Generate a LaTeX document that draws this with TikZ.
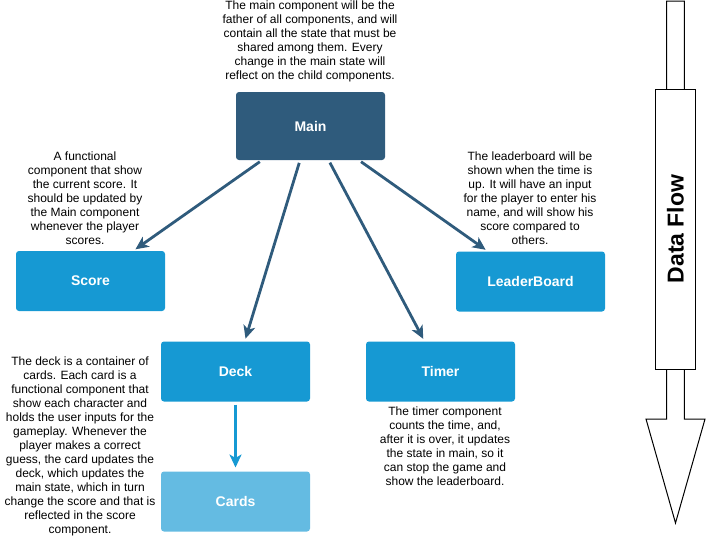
\documentclass[tikz,border=0pt]{standalone}
\usepackage{fontspec}
\setmainfont{Liberation Sans}
\usetikzlibrary{arrows.meta}
\definecolor{maindark}{HTML}{2F5B7C}
\definecolor{compblue}{HTML}{1699D3}
\definecolor{cardblue}{HTML}{64BBE2}

\begin{document}
\begin{tikzpicture}[x=1pt,y=-1pt,
	comp/.style={rounded corners=3pt,minimum width=149pt,minimum height=60pt,inner sep=0pt,outer sep=0pt,text=white,font=\fontsize{14}{16}\selectfont\bfseries},
	note/.style={align=center,inner sep=0pt,font=\fontsize{12}{14}\selectfont},
	link/.style={-{Stealth[length=13pt,width=12pt,inset=3.5pt]},line width=2.8pt,draw=maindark,shorten <=3pt,shorten >=3pt}]
	\useasboundingbox (0,0) rectangle (706,536);
	%components
	\node[comp,fill=maindark,minimum height=68pt] (main) at (310.5,126) {Main};
	\node[comp,fill=compblue] (score) at (90.5,281) {Score};
	\node[comp,fill=compblue] (board) at (530.5,281.5) {LeaderBoard};
	\node[comp,fill=compblue] (deck) at (235.5,371.5) {Deck};
	\node[comp,fill=compblue] (timer) at (440.5,371.5) {Timer};
	\node[comp,fill=cardblue] (cards) at (235.5,501.5) {Cards};
	%notes
	\node[note] (mainnote) at (310,41) {The main component will be the\\father of all components, and will\\contain all the state that must be\\shared among them. Every\\change in the main state will\\reflect on the child components.};
	\node[note] (scorenote) at (85,198.5) {A functional\\component that show\\the current score. It\\should be updated by\\the Main component\\whenever the player\\scores.};
	\node[note] (boardnote) at (530,198.5) {The leaderboard will be\\shown when the time is\\up. It will have an input\\for the player to enter his\\name, and will show his\\score compared to\\others.};
	\node[note] (decknote) at (80,446) {The deck is a container of\\cards. Each card is a\\functional component that\\show each character and\\holds the user inputs for the\\gameplay. Whenever the\\player makes a correct\\guess, the card updates the\\deck, which updates the\\main state, which in turn\\change the score and that is\\reflected in the score\\component.};
	\node[note] (timernote) at (445,446) {The timer component\\counts the time, and,\\after it is over, it updates\\the state in main, so it\\can stop the game and\\show the leaderboard.};
	%links
	\draw[link] (main) -- (score);
	\draw[link] (main) -- (deck);
	\draw[link] (main) -- (timer);
	\draw[link] (main) -- (board);
	\draw[link,draw=compblue,line width=2.5pt,shorten <=3pt,shorten >=4pt] (deck) -- (cards);
	%data flow
	\draw[line width=1pt] (666.7,1) -- (684.3,1) -- (684.3,419) -- (705,419) -- (675.5,523) -- (646,419) -- (666.7,419) -- cycle;
	\node[draw,line width=1pt,fill=white,rotate=90,minimum width=280pt,minimum height=40.4pt,inner sep=0pt,font=\fontsize{23}{26}\selectfont\bfseries] (flow) at (675.5,229) {Data Flow};
\end{tikzpicture}
\end{document}
